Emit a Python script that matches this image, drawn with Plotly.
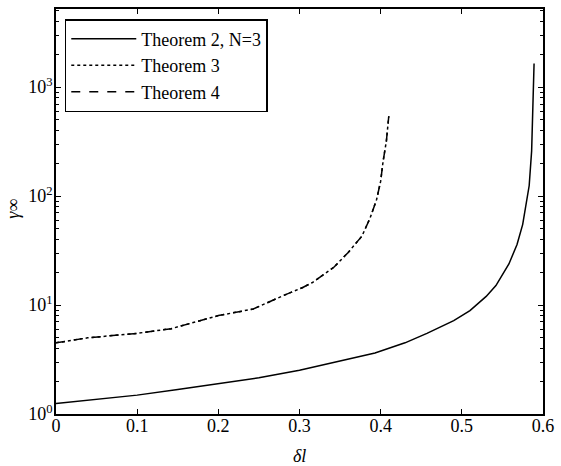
import plotly.graph_objects as go

# Theorem 2, N=3
x_t2 = [0.0, 0.05, 0.1, 0.15, 0.2, 0.25, 0.3, 0.343, 0.393, 0.43, 0.457, 0.49, 0.51, 0.53, 0.542, 0.558, 0.568, 0.575, 0.58, 0.583, 0.586, 0.588, 0.589]
y_t2 = [1.25, 1.36, 1.49, 1.68, 1.91, 2.15, 2.52, 3.0, 3.63, 4.5, 5.5, 7.2, 8.9, 12.0, 15.1, 23.8, 36, 55, 90, 125, 260, 700, 1650]

# Theorem 3 / Theorem 4 (coincident)
x_t3 = [0.0, 0.039, 0.1, 0.142, 0.2, 0.243, 0.28, 0.304, 0.316, 0.342, 0.36, 0.377, 0.387, 0.395, 0.4, 0.403, 0.407, 0.409, 0.41]
y_t3 = [4.5, 5.0, 5.5, 6.07, 8.0, 9.2, 12.2, 14.5, 16.1, 22.1, 30.4, 43, 63, 93, 137, 209, 318, 519, 540]

x_ticks = [0, 0.1, 0.2, 0.3, 0.4, 0.5, 0.6]
x_tick_text = ["0", "0.1", "0.2", "0.3", "0.4", "0.5", "0.6"]
y_ticks = [1, 10, 100, 1000]
y_tick_text = ["10<sup>0</sup>", "10<sup>1</sup>", "10<sup>2</sup>", "10<sup>3</sup>"]
y_minor = [m * 10 ** d for d in range(4) for m in range(2, 10)]

FONT = "Liberation Serif"

fig = go.Figure()
fig.add_trace(go.Scatter(x=x_t2, y=y_t2, mode="lines", name="Theorem 2, N=3",
                         line=dict(color="black", width=1.5, dash="solid")))
fig.add_trace(go.Scatter(x=x_t3, y=y_t3, mode="lines", name="Theorem 3",
                         line=dict(color="black", width=1.5, dash="dot")))
fig.add_trace(go.Scatter(x=x_t3, y=y_t3, mode="lines", name="Theorem 4",
                         line=dict(color="black", width=1.5, dash="dash")))

pw, ph = 561 - 56 - 10, 466 - 7 - 52

fig.update_layout(
    width=561, height=466,
    margin=dict(l=56, r=10, t=7, b=52),
    paper_bgcolor="white", plot_bgcolor="white",
    font=dict(family=FONT, size=18, color="black"),
    showlegend=True,
    legend=dict(x=0.018, y=0.975, xanchor="left", yanchor="top",
                bordercolor="black", borderwidth=1.5, bgcolor="white",
                font=dict(family=FONT, size=18, color="black"),
                tracegroupgap=0, itemwidth=65),
    annotations=[
        dict(text="<i>δl</i>", x=0.5, y=-(456 - 414) / ph, xref="paper", yref="paper",
             xanchor="center", yanchor="middle",
             showarrow=False, font=dict(family=FONT, size=18)),
        dict(text="<i>γ</i>∞", x=-(56 - 12) / pw, y=(414 - 208) / ph,
             xref="paper", yref="paper", xanchor="center", yanchor="middle",
             showarrow=False, textangle=-90, font=dict(family=FONT, size=18)),
    ],
)

fig.update_xaxes(
    range=[0, 0.6], tickvals=x_ticks, ticktext=x_tick_text,
    ticks="inside", ticklen=5, tickwidth=1, tickcolor="black",
    showline=True, linecolor="black", linewidth=1.5, mirror="allticks",
    showgrid=False, zeroline=False, ticklabeloverflow="allow",
    ticklabelstandoff=-5,
)
fig.update_yaxes(
    type="log", range=[0, 3.717], tickvals=y_ticks, ticktext=y_tick_text,
    ticks="inside", ticklen=5, tickwidth=1, tickcolor="black",
    showline=True, linecolor="black", linewidth=1.5, mirror="allticks",
    showgrid=False, zeroline=False, ticklabelstandoff=-2,
    minor=dict(tickvals=y_minor, ticks="inside", ticklen=3, tickwidth=1,
               tickcolor="black", showgrid=False),
)

fig.write_html("out.html")
